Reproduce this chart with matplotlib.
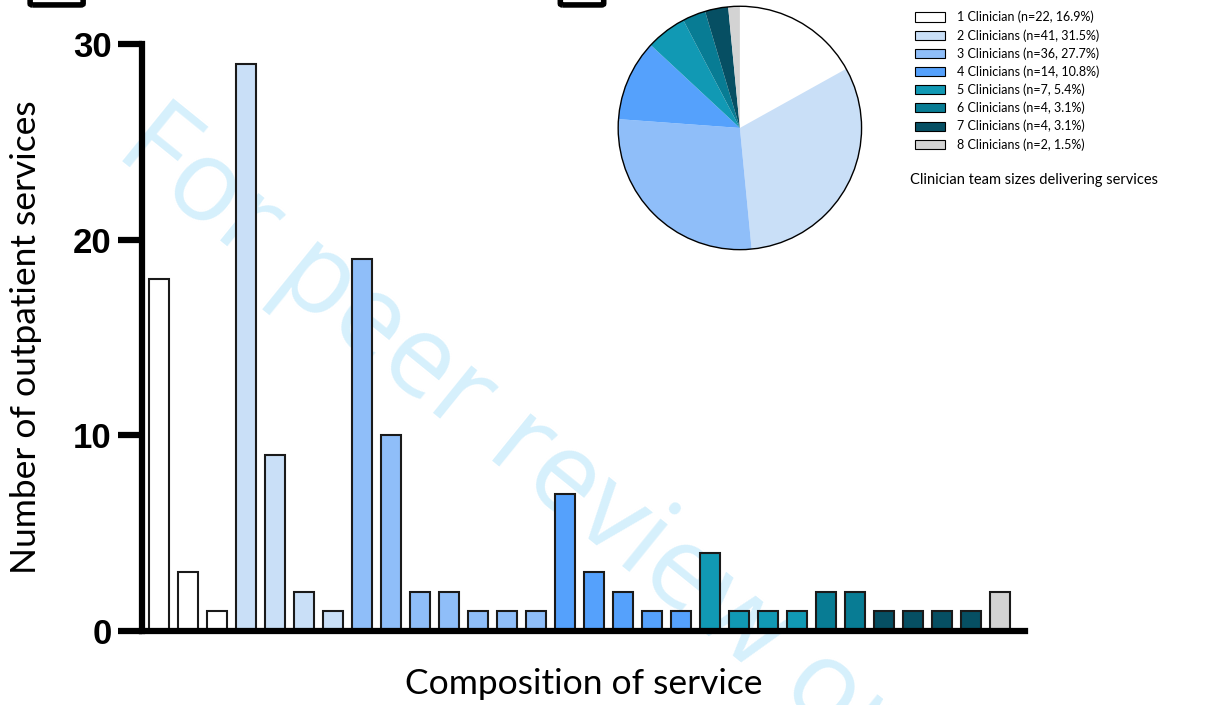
import matplotlib
matplotlib.use("Agg")
import matplotlib.pyplot as plt
from matplotlib.patches import Patch, FancyBboxPatch

# bar values per service, grouped by team size
groups = ["1 Clinician", "2 Clinicians", "3 Clinicians", "4 Clinicians",
          "5 Clinicians", "6 Clinicians", "7 Clinicians", "8 Clinicians"]
group_values = [
    [18, 3, 1],
    [29, 9, 2, 1],
    [19, 10, 2, 2, 1, 1, 1],
    [7, 3, 2, 1, 1],
    [4, 1, 1, 1],
    [2, 2],
    [1, 1, 1, 1],
    [2],
]
group_n = [22, 41, 36, 14, 7, 4, 4, 2]
group_pct = [16.9, 31.5, 27.7, 10.8, 5.4, 3.1, 3.1, 1.5]
colors = ["#ffffff", "#c9dff7", "#8fbef9", "#55a1fc", "#1199b4", "#087c94", "#064f63", "#d3d3d3"]

plt.rcParams['font.family'] = ['Lato', 'DejaVu Sans']

fig = plt.figure(figsize=(12.05, 7.05), dpi=100)

ax = fig.add_axes([0.1178, 0.105, 0.733, 0.8326])
ax.patch.set_alpha(0)

# watermark (behind the bars)
ax.text(0.094, 0.782, "For peer review only", fontsize=82, color="#d6f0fc",
        family=["Open Sans", "DejaVu Sans"], rotation=-39, rotation_mode="anchor",
        ha="left", va="baseline", transform=fig.transFigure, zorder=1, clip_on=False)

heights = []
bar_colors = []
for vals, c in zip(group_values, colors):
    heights += vals
    bar_colors += [c] * len(vals)
xs = list(range(len(heights)))
ax.bar(xs, heights, width=0.69, color=bar_colors, edgecolor="#1a1a1a", linewidth=1.5, zorder=3)

ax.set_xlim(-0.59, 29.86)
ax.set_ylim(0, 30)
ax.set_yticks([0, 10, 20, 30])
ax.set_xticks([])
for s in ["top", "right"]:
    ax.spines[s].set_visible(False)
ax.spines["left"].set_linewidth(4.5)
ax.spines["bottom"].set_linewidth(4.5)
ax.spines["left"].set_zorder(4)
ax.spines["bottom"].set_zorder(4)
ax.tick_params(axis="y", width=4.5, length=17, pad=5)
for lab in ax.get_yticklabels():
    lab.set_fontweight("bold")
    lab.set_fontsize(25)
    lab.set_family(["Liberation Sans", "DejaVu Sans"])
ax.set_ylabel("Number of outpatient services", fontsize=25.5, labelpad=22)
ax.set_xlabel("Composition of service", fontsize=25.5, labelpad=27)

# pie
pax = fig.add_axes([0.512, 0.644, 0.204, 0.349])
wedges, _ = pax.pie(group_n, colors=colors, startangle=90, counterclock=False,
                    wedgeprops=dict(linewidth=0))
circle = plt.Circle((0, 0), 1, fill=False, edgecolor="black", linewidth=1)
pax.add_patch(circle)
pax.set_xlim(-1.01, 1.01)
pax.set_ylim(-1.01, 1.01)
pax.set_aspect("equal")

handles = [Patch(facecolor=c, edgecolor="black", linewidth=0.8) for c in colors]
labels = [f"{g} (n={n}, {p}%)" for g, n, p in zip(groups, group_n, group_pct)]
fig.legend(handles, labels, loc="upper left", bbox_to_anchor=(0.752, 0.997),
           frameon=False, fontsize=9, handlelength=2.4, handleheight=0.75,
           labelspacing=0.45, handletextpad=1.0, borderpad=0.2)
fig.text(0.755, 0.745, "Clinician team sizes delivering services", fontsize=10.5, ha="left", va="center")

# cut-off panel label boxes at top edge
for x0, w in [(0.027, 0.040), (0.467, 0.032)]:
    fig.patches.append(FancyBboxPatch((x0, 0.995), w, 0.05, boxstyle="round,pad=0.002",
                                      transform=fig.transFigure, fill=False,
                                      edgecolor="black", linewidth=4))

fig.savefig("out.png", dpi=100)
